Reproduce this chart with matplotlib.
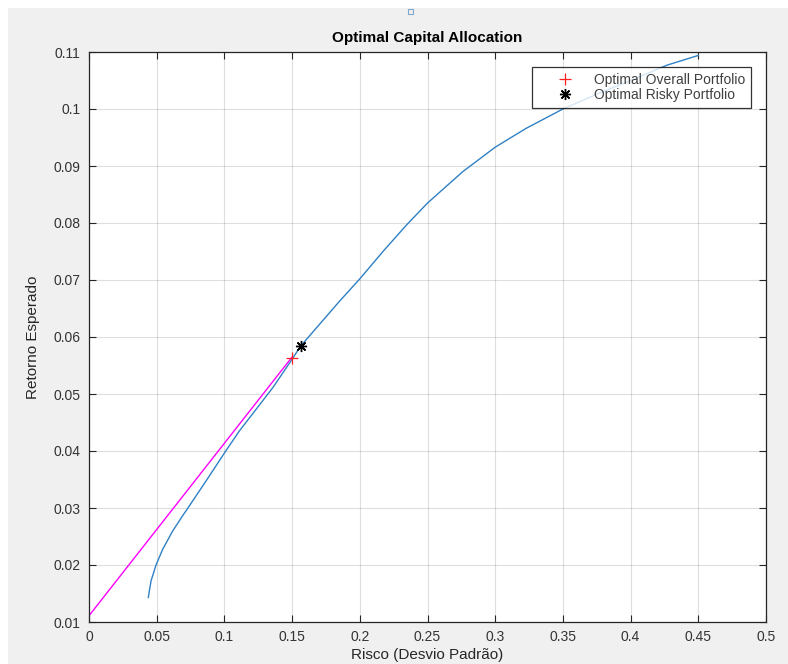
import matplotlib
matplotlib.use("Agg")
import matplotlib.pyplot as plt
from matplotlib.patches import Rectangle

plt.rcParams['font.family'] = ['Liberation Sans', 'DejaVu Sans']

# efficient frontier (risk, return)
frontier_risk = [0.0438, 0.0458, 0.0495, 0.0545, 0.0619, 0.0693, 0.0725, 0.0866,
                 0.1010, 0.1113, 0.1237, 0.1360, 0.1497, 0.1563, 0.1851, 0.2000,
                 0.2171, 0.2343, 0.2500, 0.2637, 0.2760, 0.3000, 0.3228, 0.3500,
                 0.3800, 0.4000, 0.4270, 0.4500]
frontier_ret = [0.0143, 0.0172, 0.0200, 0.0228, 0.0260, 0.0287, 0.0298, 0.0348,
                0.0400, 0.0436, 0.0474, 0.0512, 0.0560, 0.0584, 0.0663, 0.0702,
                0.0750, 0.0796, 0.0835, 0.0864, 0.0890, 0.0933, 0.0966, 0.1000,
                0.1031, 0.1050, 0.1077, 0.1094]

# capital allocation line
cal_risk = [0.0, 0.1497]
cal_ret = [0.0111, 0.0564]

overall_pt = (0.1497, 0.0564)
risky_pt = (0.1563, 0.0584)

x_ticks = [0, 0.05, 0.1, 0.15, 0.2, 0.25, 0.3, 0.35, 0.4, 0.45, 0.5]
x_labels = ['0', '0.05', '0.1', '0.15', '0.2', '0.25', '0.3', '0.35', '0.4', '0.45', '0.5']
y_ticks = [0.01, 0.02, 0.03, 0.04, 0.05, 0.06, 0.07, 0.08, 0.09, 0.1, 0.11]
y_labels = ['0.01', '0.02', '0.03', '0.04', '0.05', '0.06', '0.07', '0.08', '0.09', '0.1', '0.11']

W, H = 788, 664
fig = plt.figure(figsize=(W / 100, H / 100), dpi=100)
fig.patch.set_facecolor('white')
# grey figure panel
fig.patches.append(Rectangle((8 / W, 0), 1, 1 - 8 / H, transform=fig.transFigure,
                             facecolor='#f0f0f0', edgecolor='none', zorder=-1))
# small marker artefact at the top
fig.patches.append(Rectangle((408 / W, 1 - 14 / H), 5 / W, 5 / H, transform=fig.transFigure,
                             facecolor='#f0f0f0', edgecolor='#7fa7d0', linewidth=0.8))

ax = fig.add_axes([89 / W, 1 - 622 / H, (766 - 89) / W, (622 - 52) / H])
ax.set_facecolor('white')

ax.plot(frontier_risk, frontier_ret, color='#2f80c4', linewidth=1.0)
ax.plot(cal_risk, cal_ret, color='#FF00FF', linewidth=1.0)
ax.plot([overall_pt[0]], [overall_pt[1]], linestyle='none', marker='+', color='#FF2020',
        markersize=9, markeredgewidth=0.9, label='Optimal Overall Portfolio')
ax.plot([risky_pt[0]], [risky_pt[1]], linestyle='none', marker=(8, 2, 0), color='black',
        markersize=8, markeredgewidth=1.0, label='Optimal Risky Portfolio')

ax.set_xlim(0, 0.5)
ax.set_ylim(0.01, 0.11)
ax.set_xticks(x_ticks)
ax.set_xticklabels(x_labels)
ax.set_yticks(y_ticks)
ax.set_yticklabels(y_labels)
ax.grid(True, color='#262626', alpha=0.15, linewidth=0.8)
ax.set_axisbelow(True)
ax.tick_params(direction='in', length=5, width=0.8, top=True, right=True,
               colors='#262626', labelsize=10, labelcolor='#333333', pad=6)
for s in ax.spines.values():
    s.set_color('#262626')
    s.set_linewidth(0.9)

ax.set_title('Optimal Capital Allocation', fontsize=11, fontweight='bold', color='black', pad=7)
ax.set_xlabel('Risco (Desvio Padrão)', fontsize=11, color='#262626', labelpad=3)
ax.set_ylabel('Retorno Esperado', fontsize=11, color='#262626', labelpad=10)

leg = ax.legend(loc='upper right', bbox_to_anchor=(1 - 15 / 677, 1 - 15 / 570),
                fontsize=10, frameon=True, fancybox=False, edgecolor='black',
                borderpad=0.4, handlelength=4.0, handletextpad=0.1, labelspacing=0.12,
                borderaxespad=0)
leg.get_frame().set_linewidth(0.9)
for t in leg.get_texts():
    t.set_color('#404040')

fig.savefig('out.png', dpi=100, facecolor=fig.get_facecolor())
